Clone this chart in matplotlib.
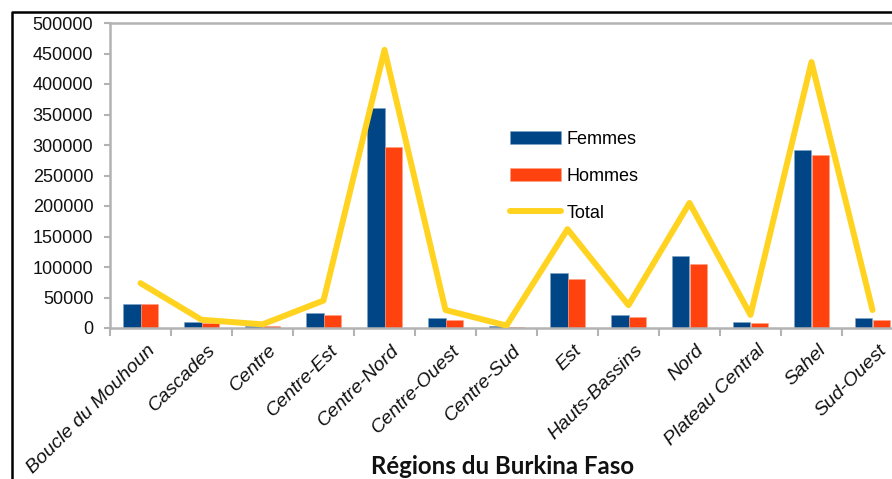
import numpy as np
import matplotlib
matplotlib.use("Agg")
import matplotlib.pyplot as plt
from matplotlib.lines import Line2D

# valeurs
regions = ["Boucle du Mouhoun", "Cascades", "Centre", "Centre-Est", "Centre-Nord",
           "Centre-Ouest", "Centre-Sud", "Est", "Hauts-Bassins", "Nord",
           "Plateau Central", "Sahel", "Sud-Ouest"]
femmes = [39500, 10000, 3000, 24500, 360000, 16000, 2500, 90000, 21000, 118000, 10500, 292000, 16500]
hommes = [40000, 8500, 2500, 20500, 297000, 13000, 1500, 81000, 18500, 105000, 9000, 283000, 13000]
total = [73500, 13500, 6000, 45000, 456000, 29500, 4000, 162000, 37500, 205000, 21500, 436000, 29500]
yticks = [0, 50000, 100000, 150000, 200000, 250000, 300000, 350000, 400000, 450000, 500000]

plt.rcParams['font.family'] = ['Liberation Sans', 'DejaVu Sans']

W, H = 892, 479
fig = plt.figure(figsize=(W / 100, H / 100), dpi=100)
ax = fig.add_axes([110 / W, 1 - 328 / H, 793 / W, 305 / H])

x = np.arange(len(regions))
bw = 0.28
b1 = ax.bar(x - bw / 2, femmes, bw, color='#004586', edgecolor='#7fa2c2', linewidth=0.4, label='Femmes', zorder=2)
b2 = ax.bar(x + bw / 2, hommes, bw, color='#ff420e', edgecolor='#ffa080', linewidth=0.4, label='Hommes', zorder=2)
l1, = ax.plot(x, total, color='#ffd320', lw=4.3, solid_joinstyle='round', solid_capstyle='round',
              label='Total', zorder=3)

ax.set_xlim(-0.5, len(regions) - 0.5)
ax.set_ylim(0, 500000)
ax.set_yticks(yticks)
ax.set_yticklabels([str(v) for v in yticks], fontsize=13, color='#111111')
ax.tick_params(axis='y', length=4, color='#b3b3b3', width=1.5, pad=8)

# ticks entre les categories
ax.set_xticks(np.arange(-0.5, len(regions) + 0.5, 1.0), minor=False)
ax.set_xticklabels([])
ax.tick_params(axis='x', length=6, color='#b3b3b3', width=1.5)
for i, r in enumerate(regions):
    ax.text(i + 0.1, -0.045, r, transform=ax.get_xaxis_transform(), rotation=45,
            ha='right', va='top', rotation_mode='anchor', fontsize=14,
            style='italic', color='#111111')

for s in ['top', 'left', 'bottom', 'right']:
    ax.spines[s].set_color('#b3b3b3')
    ax.spines[s].set_linewidth(1.8)

fig.text(503 / W, 1 - 466 / H, "Régions du Burkina Faso", ha='center', va='center',
         fontsize=17.3, fontweight='bold', family=['Lato', 'DejaVu Sans'], color='#111111')

leg = ax.legend([b1, b2, l1], ['Femmes', 'Hommes', 'Total'],
                loc='upper left', bbox_to_anchor=(510 / W, 1 - 131 / H),
                bbox_transform=fig.transFigure, frameon=False, fontsize=13,
                handlelength=2.8, handletextpad=0.35, labelspacing=1.1,
                borderpad=0, borderaxespad=0)

# cadre noir
fig.add_artist(Line2D([12 / W, 12 / W, 1.0], [0, 1 - 12 / H, 1 - 12 / H],
                      transform=fig.transFigure, color='black', lw=1.8))

fig.savefig('out.png', dpi=100)
